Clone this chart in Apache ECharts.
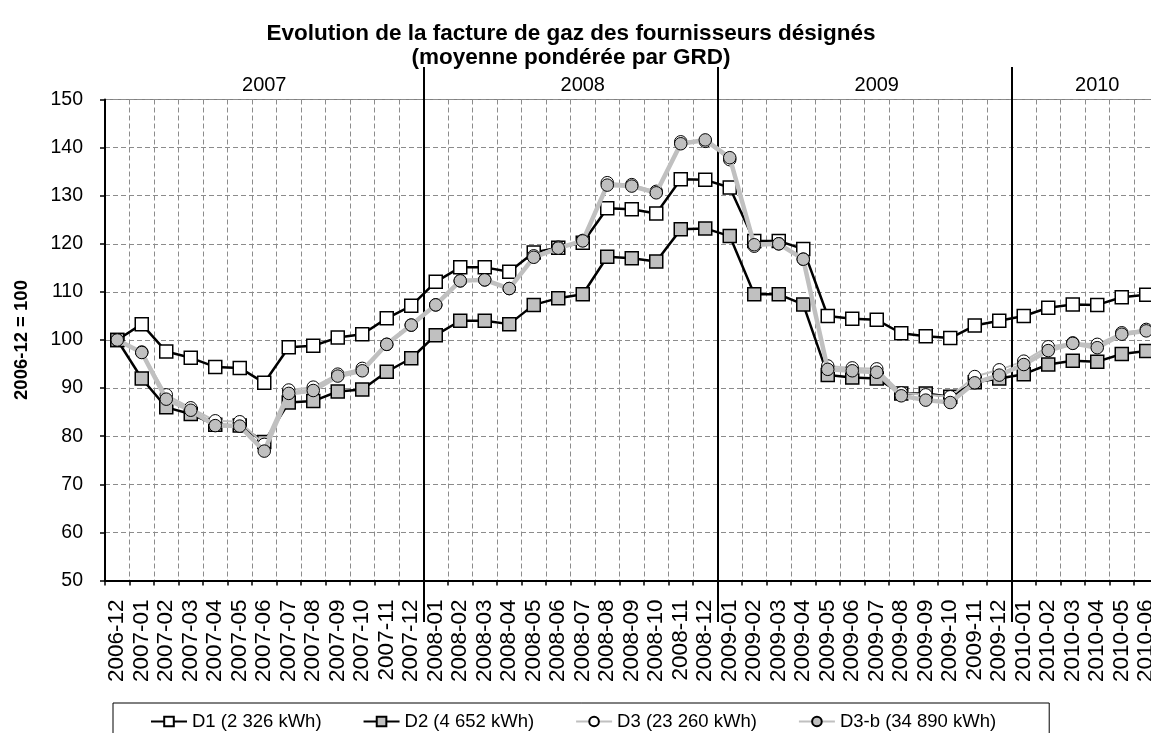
<!DOCTYPE html>
<html>
<head>
<meta charset="utf-8">
<script src="https://cdn.jsdelivr.net/npm/echarts@6/dist/echarts.min.js"></script>
<style>
html,body{margin:0;padding:0;background:#fff;}
#chart{width:1151px;height:733px;}
</style>
</head>
<body>
<div id="chart"></div>
<script>
const categories = ['2006-12','2007-01','2007-02','2007-03','2007-04','2007-05','2007-06','2007-07','2007-08','2007-09','2007-10','2007-11','2007-12',
'2008-01','2008-02','2008-03','2008-04','2008-05','2008-06','2008-07','2008-08','2008-09','2008-10','2008-11','2008-12',
'2009-01','2009-02','2009-03','2009-04','2009-05','2009-06','2009-07','2009-08','2009-09','2009-10','2009-11','2009-12',
'2010-01','2010-02','2010-03','2010-04','2010-05','2010-06'];

const d1 = [100,103.3,97.6,96.3,94.4,94.2,91.1,98.5,98.8,100.5,101.2,104.5,107.1,
112.1,115.1,115.1,114.2,118.2,119.2,120.2,127.4,127.2,126.3,133.4,133.3,
131.7,120.6,120.6,118.9,105.0,104.4,104.2,101.4,100.8,100.4,103.0,104.0,
105.0,106.7,107.4,107.3,108.9,109.4];

const d2 = [100,92.0,86.0,84.6,82.4,82.2,78.8,87.0,87.3,89.3,89.7,93.4,96.2,
101.0,104.0,104.0,103.3,107.3,108.7,109.5,117.3,117.0,116.3,123.0,123.2,
121.6,109.5,109.5,107.4,92.7,92.2,92.0,88.9,88.9,88.2,91.2,92.0,
92.9,94.9,95.7,95.5,97.1,97.7];

const d3 = [100,97.5,88.6,85.9,83.2,83.0,78.3,89.6,90.2,92.9,94.1,99.1,103.1,
107.3,112.3,112.5,110.7,117.5,119.3,120.7,132.7,132.3,130.9,141.2,141.3,
137.5,119.5,120.0,116.8,94.6,94.2,94.0,89.0,88.6,88.2,92.4,93.8,
95.6,98.6,99.4,99.1,101.5,102.2];

const d3b = [100,97.4,87.7,85.4,82.2,82.1,76.9,88.9,89.5,92.5,93.6,99.1,103.1,
107.3,112.3,112.5,110.7,117.2,119.1,120.6,132.2,132.0,130.6,140.8,141.6,
137.9,119.8,120.0,116.8,93.9,93.6,93.3,88.4,87.5,87.0,91.1,92.7,
94.9,97.8,99.3,98.4,101.2,101.9];

const seriesNames = ['D1 (2 326 kWh)','D2 (4 652 kWh)','D3 (23 260 kWh)','D3-b (34 890 kWh)'];
const yearLabels = ['2007','2008','2009','2010'];
const yearStarts = [0,13,25,37];
const yTicks = {min:50, max:150, step:10};

const FONT = "'Liberation Sans', Arial, sans-serif";
const GRAY = '#c0c0c0';

// index of each year label (middle of its block)
const yearLabelAt = {};
yearStarts.forEach((s,i)=>{
  const e = i < yearStarts.length-1 ? yearStarts[i+1]-1 : categories.length-1;
  yearLabelAt[Math.ceil((s+e)/2)] = yearLabels[i];
});

const chart = echarts.init(document.getElementById('chart'), null, {renderer:'canvas'});

const gridLeft = 105, gridWidth = 1053.5;

const option = {
  backgroundColor:'#fff',
  animation:false,
  title:{
    text:'Evolution de la facture de gaz des fournisseurs désignés\n(moyenne pondérée par GRD)',
    left:566, top:17, textAlign:'center',
    textStyle:{fontFamily:FONT, fontSize:22.5, fontWeight:'bold', color:'#000', lineHeight:24}
  },
  legend:{
    data:seriesNames,
    left:113, top:703,
    padding:[9,53,14,37],
    itemGap:41, itemWidth:36, itemHeight:12,
    borderColor:'#000', borderWidth:1,
    textStyle:{fontFamily:FONT, fontSize:18.5, color:'#000'}
  },
  grid:[
    {left:gridLeft, width:gridWidth, top:99.5, bottom:152.5, outerBoundsMode:'none', containLabel:false,
     show:true, borderColor:'#808080', borderWidth:1, backgroundColor:'transparent'},
    {left:gridLeft, width:gridWidth, top:67, bottom:111, outerBoundsMode:'none', containLabel:false, show:false}
  ],
  xAxis:[
    {
      type:'category', gridIndex:0, data:categories, boundaryGap:true,
      axisLine:{show:true, onZero:false, lineStyle:{color:'#000', width:2}},
      axisTick:{show:true, length:5, inside:false, lineStyle:{color:'#000', width:1.5}, interval:0},
      axisLabel:{interval:0, rotate:90, margin:19, fontFamily:FONT, fontSize:22.5, color:'#000'},
      splitLine:{show:true, interval:0, lineStyle:{color:'#8c8c8c', type:[5,3], width:1}}
    },
    {
      type:'category', gridIndex:0, data:categories, position:'top', boundaryGap:true,
      axisLine:{show:false}, axisTick:{show:false}, splitLine:{show:false},
      axisLabel:{interval:0, margin:4, fontFamily:FONT, fontSize:20, color:'#000',
        formatter:(v,i)=> yearLabelAt[i] || ''}
    },
    {
      type:'value', gridIndex:1, min:0, max:categories.length, show:false
    }
  ],
  yAxis:[
    {
      type:'value', gridIndex:0, min:yTicks.min, max:yTicks.max, interval:yTicks.step,
      name:'2006-12 = 100', nameLocation:'middle', nameGap:74, nameRotate:90,
      nameTextStyle:{fontFamily:FONT, fontSize:18.5, fontWeight:'bold', color:'#000'},
      axisLine:{show:true, lineStyle:{color:'#000', width:2}},
      axisTick:{show:true, length:5, lineStyle:{color:'#000', width:1.5}},
      axisLabel:{margin:22, fontFamily:FONT, fontSize:19.5, color:'#000'},
      splitLine:{show:true, lineStyle:{color:'#8c8c8c', type:[5,3], width:1}}
    },
    {type:'value', gridIndex:1, min:0, max:1, show:false}
  ],
  series:[
    {
      name:seriesNames[0], type:'line', xAxisIndex:0, yAxisIndex:0, data:d1,
      symbol:'rect', symbolSize:13, showAllSymbol:true,
      lineStyle:{color:'#000', width:2.5},
      itemStyle:{color:'#fff', borderColor:'#000', borderWidth:1.5},
      z:2
    },
    {
      name:seriesNames[1], type:'line', xAxisIndex:0, yAxisIndex:0, data:d2,
      symbol:'rect', symbolSize:13, showAllSymbol:true,
      lineStyle:{color:'#000', width:2.5},
      itemStyle:{color:GRAY, borderColor:'#000', borderWidth:1.5},
      z:3
    },
    {
      name:seriesNames[2], type:'line', xAxisIndex:0, yAxisIndex:0, data:d3,
      symbol:'circle', symbolSize:12.5, showAllSymbol:true,
      lineStyle:{color:GRAY, width:2},
      itemStyle:{color:'#fff', borderColor:'#000', borderWidth:1},
      z:4
    },
    {
      name:seriesNames[3], type:'line', xAxisIndex:0, yAxisIndex:0, data:d3b,
      symbol:'circle', symbolSize:12.5, showAllSymbol:true,
      lineStyle:{color:GRAY, width:4.5},
      itemStyle:{color:GRAY, borderColor:'#000', borderWidth:1},
      z:5
    },
    {
      type:'line', xAxisIndex:2, yAxisIndex:1, data:[], silent:true,
      markLine:{
        silent:true, symbol:['none','none'], label:{show:false},
        lineStyle:{color:'#000', width:2, type:'solid'},
        data: yearStarts.slice(1).map(v=>({xAxis:v}))
      },
      z:6
    }
  ]
};
chart.setOption(option);
</script>
</body>
</html>
